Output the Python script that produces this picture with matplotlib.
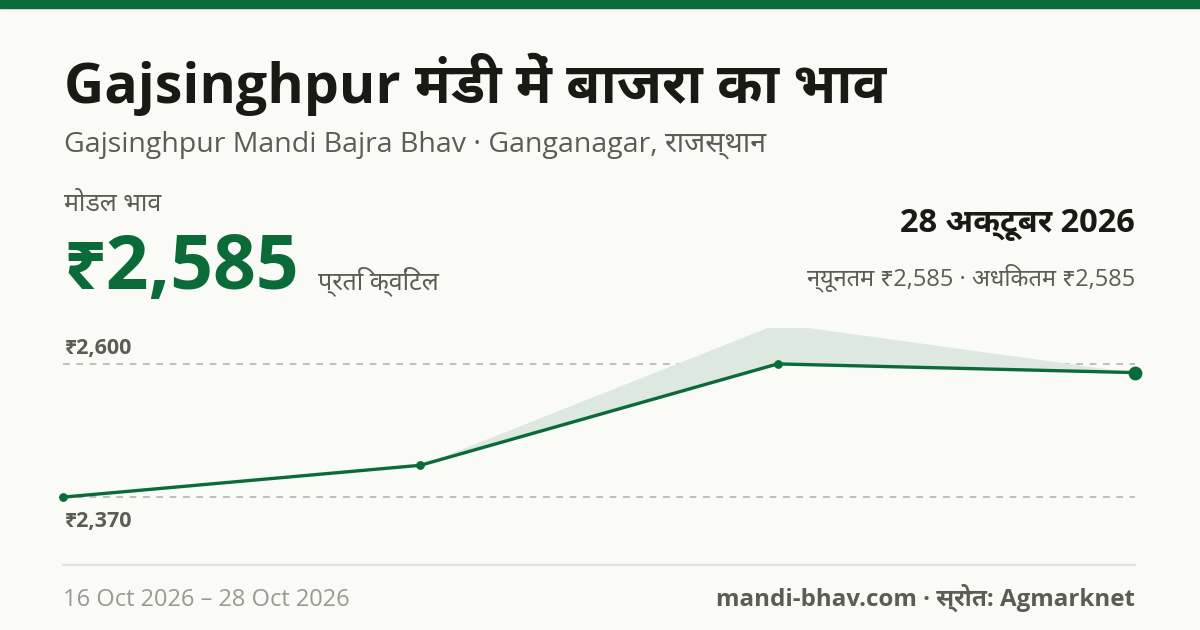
import matplotlib
matplotlib.use('Agg')
import matplotlib.pyplot as plt
from matplotlib import font_manager
from matplotlib.ft2font import FT2Font

# data
dates = ['16 Oct', '20 Oct', '24 Oct', '28 Oct']
modal_price = [2370, 2425, 2600, 2585]
min_price = [2370, 2425, 2600, 2585]
max_price = [2370, 2425, 2670, 2585]
grid_values = [2600, 2370]
grid_labels = ['₹2,600', '₹2,370']

title = 'Gajsinghpur मंडी में बाजरा का भाव'
subtitle = 'Gajsinghpur Mandi Bajra Bhav · Ganganagar, राजस्थान'
modal_label = 'मोडल भाव'
modal_value = '₹2,585'
unit_label = 'प्रति क्विंटल'
date_label = '28 अक्टूबर 2026'
range_label = 'न्यूनतम ₹2,585 · अधिकतम ₹2,585'
period_label = '16 Oct 2026 – 28 Oct 2026'
source_label = 'mandi-bhav.com · स्रोत: Agmarknet'

# settings
green = '#0b6b38'
band = '#dde8e0'
bg = '#fafaf6'
dark = '#1a1a14'
grey = '#5c5c52'
light = '#9a9a92'
W, H = 1200, 630


def font_families():
    # Latin family with a bold face, plus Devanagari families (bold ones first)
    fonts = font_manager.fontManager.ttflist
    bold_names = {f.name for f in fonts if f.weight in ('bold', 700, 'heavy', 800, 'black', 900)
                  or str(f.weight) in ('700', '800', '900')}
    latin = 'Noto Sans' if 'Noto Sans' in bold_names else 'Open Sans'
    deva = []
    for f in fonts:
        try:
            if f.name not in deva and FT2Font(f.fname).get_char_index(0x0915):
                deva.append(f.name)
        except Exception:
            pass
    deva.sort(key=lambda n: (n not in bold_names, 'Noto' not in n))
    return [latin] + deva[:1] + ['DejaVu Sans']


plt.rcParams['font.family'] = font_families()


def px(x, y):
    return x / W, 1 - y / H


fig = plt.figure(figsize=(W / 100, H / 100), dpi=100, facecolor=bg)

# top bar
fig.add_artist(plt.Rectangle(px(0, 8), 1, 8 / H, color=green, transform=fig.transFigure))

fig.text(*px(64, 103), title, fontsize=40, fontweight='bold', color=dark, va='baseline')
fig.text(*px(64, 152), subtitle, fontsize=20.5, color=grey, va='baseline')
fig.text(*px(64, 211), modal_label, fontsize=18, color=grey, va='baseline')
fig.text(*px(63, 289), modal_value, fontsize=54, fontweight='bold', color=green, va='baseline')
fig.text(*px(318, 289), unit_label, fontsize=18, color=grey, va='baseline')
fig.text(*px(1135, 232), date_label, fontsize=23.5, fontweight='bold', color=dark, va='baseline', ha='right')
fig.text(*px(1135, 285), range_label, fontsize=17, color=grey, va='baseline', ha='right')
fig.text(*px(63, 606), period_label, fontsize=17, color=light, va='baseline')
fig.text(*px(1135, 606), source_label, fontsize=17.4, fontweight='bold', color=grey, va='baseline', ha='right')

# separator
fig.add_artist(plt.Line2D([63 / W, 1135 / W], [1 - 565 / H] * 2, color='#e2e2dc', lw=1.6,
                          transform=fig.transFigure))

# chart
l, b = px(63, 540)
ax = fig.add_axes([l, b, (1135 - 63) / W, (540 - 328) / H])
ax.set_facecolor('none')
x = list(range(len(dates)))
ax.set_xlim(0, len(dates) - 1)
ax.set_ylim(2296, 2662)

for v, lab, off, va in zip(grid_values, grid_labels, [7, -10], ['baseline', 'top']):
    ax.axhline(v, color='#b5b5ae', lw=1.2, ls=(0, (4, 4)), zorder=1)
    ax.annotate(lab, (0, v), xytext=(1, off), textcoords='offset points', fontsize=15.5,
                fontweight='bold', color=grey, va=va)

ax.fill_between(x, min_price, max_price, color=band, lw=0, zorder=2)
ax.plot(x, modal_price, color=green, lw=2.4, zorder=3, solid_capstyle='round')
ax.scatter(x[:-1], modal_price[:-1], s=28, color=green, zorder=4, clip_on=False)
ax.scatter(x[-1:], modal_price[-1:], s=80, color=green, zorder=4, clip_on=False)

ax.axis('off')

fig.savefig('out.png', dpi=100, facecolor=bg)
